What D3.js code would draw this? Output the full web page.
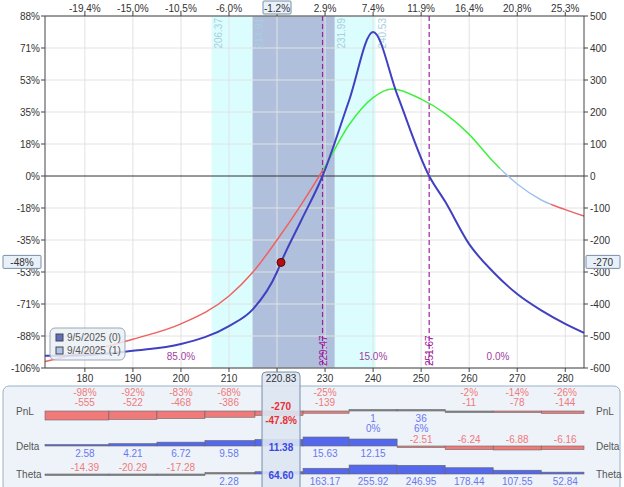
<!DOCTYPE html>
<html><head><meta charset="utf-8">
<script src="https://cdn.jsdelivr.net/npm/d3@7"></script>
<style>body{margin:0;background:#fff;font-family:"Liberation Sans",Arial,sans-serif}text{font-family:"Liberation Sans",Arial,sans-serif}</style>
</head><body>
<svg id="c" width="624" height="487"></svg>
<script>
// price grid + labels
const priceTicks = [180,190,200,210,220,230,240,250,260,270,280]
const topLabels = ['-19.4%','-15.0%','-10.5%','-6.0%','-1.2%','2.9%','7.4%','11.9%','16.4%','20.8%','25.3%']
const pnlTicks = [500,400,300,200,100,0,-100,-200,-300,-400,-500,-600]
const pctLabels = ['88%','71%','53%','35%','18%','0%','-18%','-35%','-53%','-71%','-88%','-106%']

// expiration curve (9/5) and T+1 curve (9/4)
const expPrice = [171.7,180,190,200,210,215,220,220.83,225,229.47,235,240,245,251.67,255,260,265,270,275,280,283.9]
const expPnl   = [-562,-560,-546,-525,-469,-416,-300,-270,-140,0,236,450,255,0,-80,-213,-300,-369,-420,-462,-490]
const t1Price = [171.7,180,190,200,210,215,220,225,230,235,240,244,250,255,260,265,270,275,280,283.9]
const t1Pnl   = [-580,-550,-510,-462,-375,-300,-200,-90,30,160,245,272,240,195,130,45,-25,-75,-105,-125]

const bands = [[206.37,240.53,'#dcfdfd'],[214.91,231.99,'#b0c0dc']]
const bandLabels = [206.37,214.91,231.99,240.53]
const breakevens = [229.47,251.67]
const probs = [[200,'85.0%'],[240,'15.0%'],[266,'0.0%']]
const current = {price:220.83, pnl:-270}

// table
const colPrice = [180,190,200,210,220.83,230,240,250,260,270,280]
const colPnl = [-555,-522,-468,-386,-270,-139,1,36,-11,-78,-144]
const colPct = ['-98%','-92%','-83%','-68%','-47.8%','-25%','0%','6%','-2%','-14%','-26%']
const colDelta = [2.58,4.21,6.72,9.58,11.38,15.63,12.15,-2.51,-6.24,-6.88,-6.16]
const colTheta = [-14.39,-20.29,-17.28,2.28,64.60,163.17,255.92,246.95,178.44,107.55,52.84]

const svg = d3.select('#c')
const L = 45, R = 584, T = 16, B = 368
const x = d3.scaleLinear().domain([171.7,283.9]).range([L,R])
const y = d3.scaleLinear().domain([-600,500]).range([B,T])
const RED = '#f06060', BLUE = '#4040c0', PURP = '#a020a0'

// bands
bands.forEach(b => svg.append('rect').attr('x',x(b[0])).attr('y',T).attr('width',x(b[1])-x(b[0])).attr('height',B-T).attr('fill',b[2]))
// grid
svg.selectAll('.vg').data(priceTicks).join('line').attr('x1',d=>x(d)).attr('x2',d=>x(d)).attr('y1',T).attr('y2',B).attr('stroke','#e2e2e2')
svg.selectAll('.hg').data(pnlTicks).join('line').attr('x1',L).attr('x2',R).attr('y1',d=>y(d)).attr('y2',d=>y(d)).attr('stroke',d=>d===0?'#333':'#e2e2e2')

bandLabels.forEach(v => svg.append('text').attr('transform',`translate(${x(v)+10},18) rotate(-90)`).attr('text-anchor','end')
  .attr('font-size',10).attr('fill','#a8cfe0').text(v.toFixed(2)))

// breakevens
breakevens.forEach(v => {
  svg.append('line').attr('x1',x(v)).attr('x2',x(v)).attr('y1',T).attr('y2',B).attr('stroke',PURP).attr('stroke-dasharray','5,3').attr('stroke-width',1.2)
  svg.append('text').attr('transform',`translate(${x(v)+4},366) rotate(-90)`).attr('font-size',10).attr('fill',PURP).text(v.toFixed(2))
})
probs.forEach(p => svg.append('text').attr('x',x(p[0])).attr('y',360).attr('text-anchor','middle').attr('font-size',10).attr('fill','#a040a0').text(p[1]))

// curves
const line = d3.line().curve(d3.curveMonotoneX)
const defs = svg.append('defs')
const clip = (id,a,b) => defs.append('clipPath').attr('id',id).append('rect').attr('x',x(a)).attr('y',0).attr('width',x(b)-x(a)).attr('height',487)
clip('cr1',171.7,229.6); clip('cg',229.6,266.5); clip('cb',266.5,277); clip('cr2',277,284)
const t1 = line(t1Price.map((p,i)=>[x(p),y(t1Pnl[i])]))
;[['cr1',RED],['cg','#40f040'],['cb','#a0c4ec'],['cr2',RED]].forEach(c =>
  svg.append('path').attr('d',t1).attr('clip-path',`url(#${c[0]})`).attr('fill','none').attr('stroke',c[1]).attr('stroke-width',1.5))
svg.append('path').attr('d',line(expPrice.map((p,i)=>[x(p),y(expPnl[i])]))).attr('fill','none').attr('stroke',BLUE).attr('stroke-width',2)
svg.append('circle').attr('cx',x(current.price)).attr('cy',y(current.pnl)).attr('r',4).attr('fill','#b01010').attr('stroke','#600')

// axes
svg.append('line').attr('x1',L).attr('x2',L).attr('y1',T).attr('y2',B).attr('stroke','#444')
svg.append('line').attr('x1',R).attr('x2',R).attr('y1',T).attr('y2',B).attr('stroke','#444')
svg.append('line').attr('x1',L).attr('x2',R).attr('y1',T).attr('y2',T).attr('stroke','#444')
svg.append('line').attr('x1',L).attr('x2',R).attr('y1',B).attr('y2',B).attr('stroke','#444')
pnlTicks.forEach((v,i) => {
  svg.append('line').attr('x1',L-4).attr('x2',L).attr('y1',y(v)).attr('y2',y(v)).attr('stroke','#444')
  svg.append('line').attr('x1',R).attr('x2',R+4).attr('y1',y(v)).attr('y2',y(v)).attr('stroke','#444')
  svg.append('text').attr('x',L-5).attr('y',y(v)+4).attr('text-anchor','end').attr('font-size',10).attr('fill','#333').text(pctLabels[i])
  svg.append('text').attr('x',R+6).attr('y',y(v)+4).attr('font-size',10).attr('fill','#333').text(v)
})
priceTicks.forEach((v,i) => {
  svg.append('line').attr('x1',x(v)).attr('x2',x(v)).attr('y1',T-4).attr('y2',T).attr('stroke','#444')
  svg.append('line').attr('x1',x(v)).attr('x2',x(v)).attr('y1',B).attr('y2',B+4).attr('stroke','#444')
  if (v!==220) {
    svg.append('text').attr('x',x(v)).attr('y',12).attr('text-anchor','middle').attr('font-size',10).attr('fill','#333').text(topLabels[i])
    svg.append('text').attr('x',x(v)).attr('y',382).attr('text-anchor','middle').attr('font-size',10).attr('fill','#333').text(v)
  }
})
// boxed labels
const box = (cx,cy,w,txt) => {
  svg.append('rect').attr('x',cx-w/2).attr('y',cy-7).attr('width',w).attr('height',13).attr('fill','#e8f0fa').attr('stroke','#7890a8').attr('rx',1)
  svg.append('text').attr('x',cx).attr('y',cy+4).attr('text-anchor','middle').attr('font-size',10).attr('fill','#333').text(txt)
}
box(x(220),8,28,topLabels[4])
box(22,y(current.pnl),38,'-48%')
box(603,y(current.pnl),34,String(current.pnl))

// legend
svg.append('rect').attr('x',50).attr('y',328).attr('width',75).attr('height',32).attr('rx',5).attr('fill','#eaf0f6').attr('fill-opacity',0.85).attr('stroke','#9aa8b8')
;[['9/5/2025 (0)','#6070b8'],['9/4/2025 (1)','#b0c4e8']].forEach((d,i) => {
  svg.append('rect').attr('x',56).attr('y',334+i*13).attr('width',7).attr('height',7).attr('fill',d[1]).attr('stroke','#445')
  svg.append('text').attr('x',67).attr('y',341+i*13).attr('font-size',10).attr('fill','#555').text(d[0])
})

// table panel
svg.append('rect').attr('x',3).attr('y',386).attr('width',617).attr('height',106).attr('rx',6).attr('fill','#eef3f9').attr('stroke','#9ab0c8')
const bx = d3.scaleLinear().domain([180,280]).range([x(180),x(280)])
const rows = [
  {name:'PnL', base:411, vals:colPnl, max:555, h:9},
  {name:'Delta', base:446, vals:colDelta, max:15.63, h:9},
  {name:'Theta', base:474, vals:colTheta, max:255.92, h:9}]
rows.forEach(r => {
  svg.append('text').attr('x',16).attr('y',r.base+4).attr('font-size',10).attr('fill','#555').text(r.name)
  svg.append('text').attr('x',596).attr('y',r.base+4).attr('font-size',10).attr('fill','#555').text(r.name)
  r.vals.forEach((v,i) => {
    const c = colPrice[i]
    const lo = i===0 ? 171.7 : (colPrice[i-1]+c)/2, hi = i===colPrice.length-1 ? 283.9 : (colPrice[i+1]+c)/2
    const hh = Math.max(1.5, Math.abs(v)/r.max*r.h)
    const neg = v<0
    const col = Math.abs(v)/r.max < 0.1 ? '#888' : (neg ? '#f07a7a' : '#5468ec')
    svg.append('rect').attr('x',bx(lo)).attr('width',bx(hi)-bx(lo)).attr('y',neg ? r.base : r.base-hh).attr('height',hh)
      .attr('fill',col).attr('stroke','#666').attr('stroke-width',0.6)
    if (c===current.price) return
    const txt = r.name==='PnL' ? v : v.toFixed(2)
    const tc = neg ? '#f07a7a' : '#6a78f0'
    if (r.name==='PnL') {
      if (neg) {
        svg.append('text').attr('x',bx(c)).attr('y',r.base-15).attr('text-anchor','middle').attr('font-size',10).attr('fill',tc).text(colPct[i])
        svg.append('text').attr('x',bx(c)).attr('y',r.base-5).attr('text-anchor','middle').attr('font-size',10).attr('fill',tc).text(txt)
      } else {
        svg.append('text').attr('x',bx(c)).attr('y',r.base+11).attr('text-anchor','middle').attr('font-size',10).attr('fill',tc).text(txt)
        svg.append('text').attr('x',bx(c)).attr('y',r.base+21).attr('text-anchor','middle').attr('font-size',10).attr('fill',tc).text(colPct[i])
      }
    } else {
      svg.append('text').attr('x',bx(c)).attr('y',neg ? r.base-3 : r.base+11).attr('text-anchor','middle').attr('font-size',10).attr('fill',tc).text(txt)
    }
  })
})
// current column
const cx = bx(current.price)
svg.append('rect').attr('x',cx-19).attr('y',372).attr('width',38).attr('height',120).attr('rx',4).attr('fill','#dde6f2').attr('fill-opacity',0.9).attr('stroke','#7890a8')
svg.append('text').attr('x',cx).attr('y',382).attr('text-anchor','middle').attr('font-size',10).attr('fill','#333').text(current.price)
svg.append('text').attr('x',cx).attr('y',410).attr('text-anchor','middle').attr('font-size',10).attr('font-weight','bold').attr('fill','#e83030').text(colPnl[4])
svg.append('text').attr('x',cx).attr('y',424).attr('text-anchor','middle').attr('font-size',10).attr('font-weight','bold').attr('fill','#e83030').text(colPct[4])
svg.append('text').attr('x',cx).attr('y',451).attr('text-anchor','middle').attr('font-size',10).attr('font-weight','bold').attr('fill','#3848e0').text(colDelta[4].toFixed(2))
svg.append('text').attr('x',cx).attr('y',479).attr('text-anchor','middle').attr('font-size',10).attr('font-weight','bold').attr('fill','#3848e0').text(colTheta[4].toFixed(2))
</script>
</body></html>
